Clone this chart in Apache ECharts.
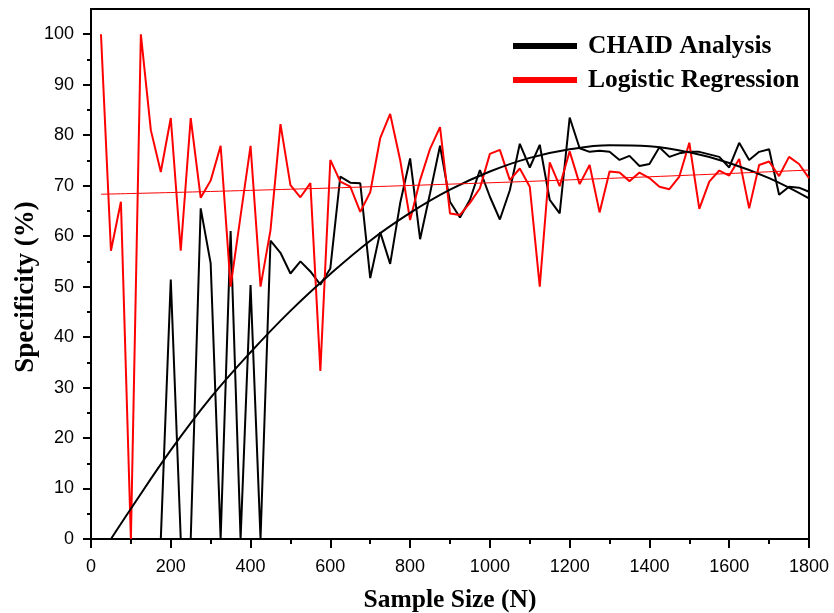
<!DOCTYPE html>
<html>
<head>
<meta charset="utf-8">
<script src="https://cdn.jsdelivr.net/npm/echarts@6/dist/echarts.min.js"></script>
<style>
html,body{margin:0;padding:0;background:#fff;}
#chart{width:834px;height:613px;}
</style>
</head>
<body>
<div id="chart"></div>
<script>
// Sample sizes (x values)
var sampleSizes = [25,50,75,100,125,150,175,200,225,250,275,300,325,350,375,400,425,450,475,500,
  525,550,575,600,625,650,675,700,725,750,775,800,825,850,875,900,925,950,975,1000,
  1025,1050,1075,1100,1125,1150,1175,1200,1225,1250,1275,1300,1325,1350,1375,1400,1425,1450,1475,1500,
  1525,1550,1575,1600,1625,1650,1675,1700,1725,1750,1775,1800];

// CHAID Analysis specificity (%)
var chaidValues = [0,0,0,0,0,0,0,51.4,0,0,65.5,54.6,0,61.0,0,50.3,0,59.1,56.7,52.6,
  55.0,53.0,50.4,53.6,71.8,70.6,70.5,51.7,60.8,54.5,66.5,75.4,59.4,68.5,77.9,66.8,63.7,67.2,73.1,67.8,
  63.3,69.1,78.3,73.6,78.1,67.2,64.5,83.5,77.4,76.7,76.9,76.7,75.1,75.9,73.9,74.3,77.6,75.7,76.4,76.7,
  76.7,76.2,75.7,73.6,78.5,75.1,76.7,77.2,68.2,69.8,69.6,68.8];

// Logistic Regression specificity (%)
var logisticValues = [100,57.1,66.8,0,100,81.0,72.7,83.4,57.1,83.4,67.6,71.0,77.9,50.0,64.0,77.9,50.0,61.2,82.2,70.1,
  67.7,70.5,33.3,75.1,70.8,69.8,64.8,68.7,79.4,84.2,75.1,63.2,71.1,77.3,81.6,64.5,64.2,66.6,69.5,76.3,
  77.1,71.1,73.4,69.8,50.0,74.6,69.9,76.8,70.3,74.1,64.7,72.8,72.6,70.9,72.6,71.5,69.8,69.3,71.8,78.5,
  65.4,70.8,73.0,72.0,75.3,65.5,74.1,74.8,71.9,75.7,74.3,71.5];

// Fitted trend curves
var chaidTrendX = [50,100,200,300,400,500,600,700,800,900,1000,1100,1200,1300,1400,1500,1600,1700,1800];
var chaidTrendY = [0,6.0,17.6,28.0,37.0,45.2,52.5,59.1,64.6,69.2,72.8,75.5,77.2,78.0,77.8,76.6,74.5,71.5,67.5];
var logisticTrendX = [25,200,400,600,800,1000,1200,1400,1600,1800];
var logisticTrendY = [68.3,68.64,69.07,69.53,70.04,70.57,71.15,71.76,72.41,73.1];

var yMajorTicks = [0,10,20,30,40,50,60,70,80,90,100];
var yMinorTicks = [5,15,25,35,45,55,65,75,85,95];

function pairs(xs, ys){ return xs.map(function(x,i){ return [x, ys[i]]; }); }

var serif = 'Liberation Serif';
var sans = 'Liberation Sans';

var chart = echarts.init(document.getElementById('chart'));
chart.setOption({
  animation: false,
  backgroundColor: '#fff',
  grid: {left: 91, right: 25, top: 9, bottom: 74, show: true, borderColor: '#000', borderWidth: 2,
         backgroundColor: 'transparent', outerBoundsMode: 'none', containLabel: false},
  legend: {
    data: ['CHAID Analysis', 'Logistic Regression'],
    orient: 'vertical',
    left: 508, top: 27,
    icon: 'rect',
    itemWidth: 64, itemHeight: 6,
    itemGap: 6,
    textStyle: {fontFamily: serif, fontWeight: 'bold', fontSize: 25.5, color: '#000', lineHeight: 28, padding: [0,0,0,6]}
  },
  xAxis: {
    type: 'value', min: 0, max: 1800, interval: 200,
    name: 'Sample Size (N)', nameLocation: 'middle', nameGap: 48, nameMoveOverlap: false,
    nameTextStyle: {fontFamily: serif, fontWeight: 'bold', fontSize: 25.5, color: '#000'},
    axisLine: {lineStyle: {color: '#000', width: 2}},
    axisTick: {show: true, inside: false, length: 9, lineStyle: {color: '#000', width: 2}},
    minorTick: {show: true, splitNumber: 2, length: 5, lineStyle: {color: '#000', width: 2}},
    axisLabel: {fontFamily: sans, fontSize: 18, color: '#000', margin: 19, formatter: function(v){ return String(v); }},
    splitLine: {show: false}
  },
  yAxis: [{
    type: 'value', min: 0, max: 105,  interval: 10,
    name: 'Specificity (%)', nameLocation: 'middle', nameGap: 51, nameMoveOverlap: false,
    nameTextStyle: {fontFamily: serif, fontWeight: 'bold', fontSize: 27, color: '#000', padding: [0, 26, 0, 0]},
    axisLine: {lineStyle: {color: '#000', width: 2}},
    axisTick: {show: true, inside: false, length: 8, customValues: yMajorTicks, lineStyle: {color: '#000', width: 2}},
    axisLabel: {fontFamily: sans, fontSize: 18, color: '#000', margin: 17, customValues: yMajorTicks},
    splitLine: {show: false}
  }, {
    type: 'value', min: 0, max: 105, interval: 10, position: 'left',
    axisLine: {show: false},
    axisTick: {show: true, inside: false, length: 4, customValues: yMinorTicks, lineStyle: {color: '#000', width: 2}},
    axisLabel: {show: false},
    splitLine: {show: false}
  }],
  series: [
    {name: 'CHAID Analysis', type: 'line', data: pairs(sampleSizes, chaidValues), color: '#000',
     symbol: 'none', lineStyle: {color: '#000', width: 2}, z: 2},
    {name: 'Logistic Regression', type: 'line', data: pairs(sampleSizes, logisticValues), color: '#ff0000',
     symbol: 'none', lineStyle: {color: '#ff0000', width: 2}, z: 3},
    {name: 'CHAID trend', type: 'line', data: pairs(chaidTrendX, chaidTrendY), color: '#000',
     symbol: 'none', smooth: 0.4, lineStyle: {color: '#000', width: 2}, z: 4},
    {name: 'Logistic trend', type: 'line', data: pairs(logisticTrendX, logisticTrendY), color: '#ff0000',
     symbol: 'none', smooth: 0.4, lineStyle: {color: '#ff0000', width: 1}, z: 5}
  ]
});
</script>
</body>
</html>
